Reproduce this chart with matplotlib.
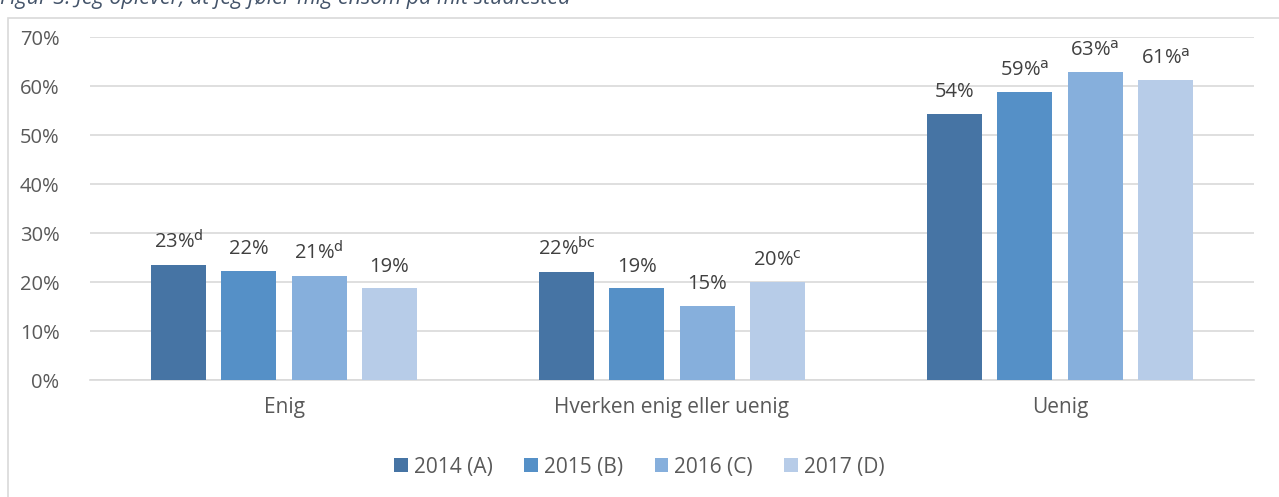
import numpy as np
import matplotlib.pyplot as plt
from matplotlib.patches import Rectangle

categories = ['Enig', 'Hverken enig eller uenig', 'Uenig']
years = ['2014 (A)', '2015 (B)', '2016 (C)', '2017 (D)']
values = [
    [23.5, 22.1, 54.4],
    [22.3, 18.8, 58.8],
    [21.3, 15.2, 62.8],
    [18.8, 20.0, 61.2],
]
labels = [
    ['23%', '22%', '54%'],
    ['22%', '19%', '59%'],
    ['21%', '15%', '63%'],
    ['19%', '20%', '61%'],
]
sups = [
    ['d', 'bc', ''],
    ['', '', 'a'],
    ['d', '', 'a'],
    ['', 'c', 'a'],
]
colors = ['#4674A4', '#5590C7', '#86AFDC', '#B7CCE8']

plt.rcParams['font.family'] = ['Open Sans', 'DejaVu Sans']
txt = '#595959'

fig = plt.figure(figsize=(12.79, 4.97), dpi=100)
ax = fig.add_axes([90 / 1279, 0.2354, 1164 / 1279, 0.690])

# frame around the chart
fig.patches.append(Rectangle((8 / 1279, -0.1), 1.2, 0.1 + (497 - 18) / 497,
                             transform=fig.transFigure, fill=False,
                             edgecolor='#D9D9D9', lw=1.2))
fig.text(0.0, 1 - 4 / 497, 'Figur 3: Jeg oplever, at jeg føler mig ensom på mit studiested',
         fontsize=15.5, style='italic', color='#44546A', va='baseline', ha='left')

x = np.arange(len(categories))
w = 0.142
step = 0.181
for i in range(len(years)):
    pos = x + (i - 1.5) * step
    ax.bar(pos, values[i], width=w, color=colors[i], label=years[i], zorder=3)
    for j in range(len(categories)):
        s = labels[i][j]
        if sups[i][j]:
            s = s + r'$^{\mathrm{' + sups[i][j] + '}}$'
        ax.text(pos[j], values[i][j] + 2.3, s, ha='center', va='bottom',
                fontsize=14.5, color='#404040')

ax.set_xlim(-0.5, 2.5)
ax.set_ylim(0, 70)
ax.set_yticks(np.arange(0, 71, 10))
ax.set_yticklabels([f'{v}%' for v in range(0, 71, 10)])
ax.set_xticks(x)
ax.set_xticklabels(categories)
ax.tick_params(length=0, colors=txt)
ax.tick_params(axis='y', pad=22, labelsize=14.5)
ax.tick_params(axis='x', pad=12, labelsize=15)
ax.grid(axis='y', color='#D9D9D9', lw=1.2, zorder=0)
for sp in ['top', 'right', 'left']:
    ax.spines[sp].set_visible(False)
ax.spines['bottom'].set_color('#D9D9D9')
ax.spines['bottom'].set_linewidth(1.2)

fig.legend(loc='center', bbox_to_anchor=(0.5, 1 - 467 / 497), ncol=4, frameon=False,
           fontsize=15, labelcolor=txt, handlelength=0.65, handleheight=0.65,
           handletextpad=0.3, columnspacing=1.5)

fig.savefig('out.png', dpi=100)
